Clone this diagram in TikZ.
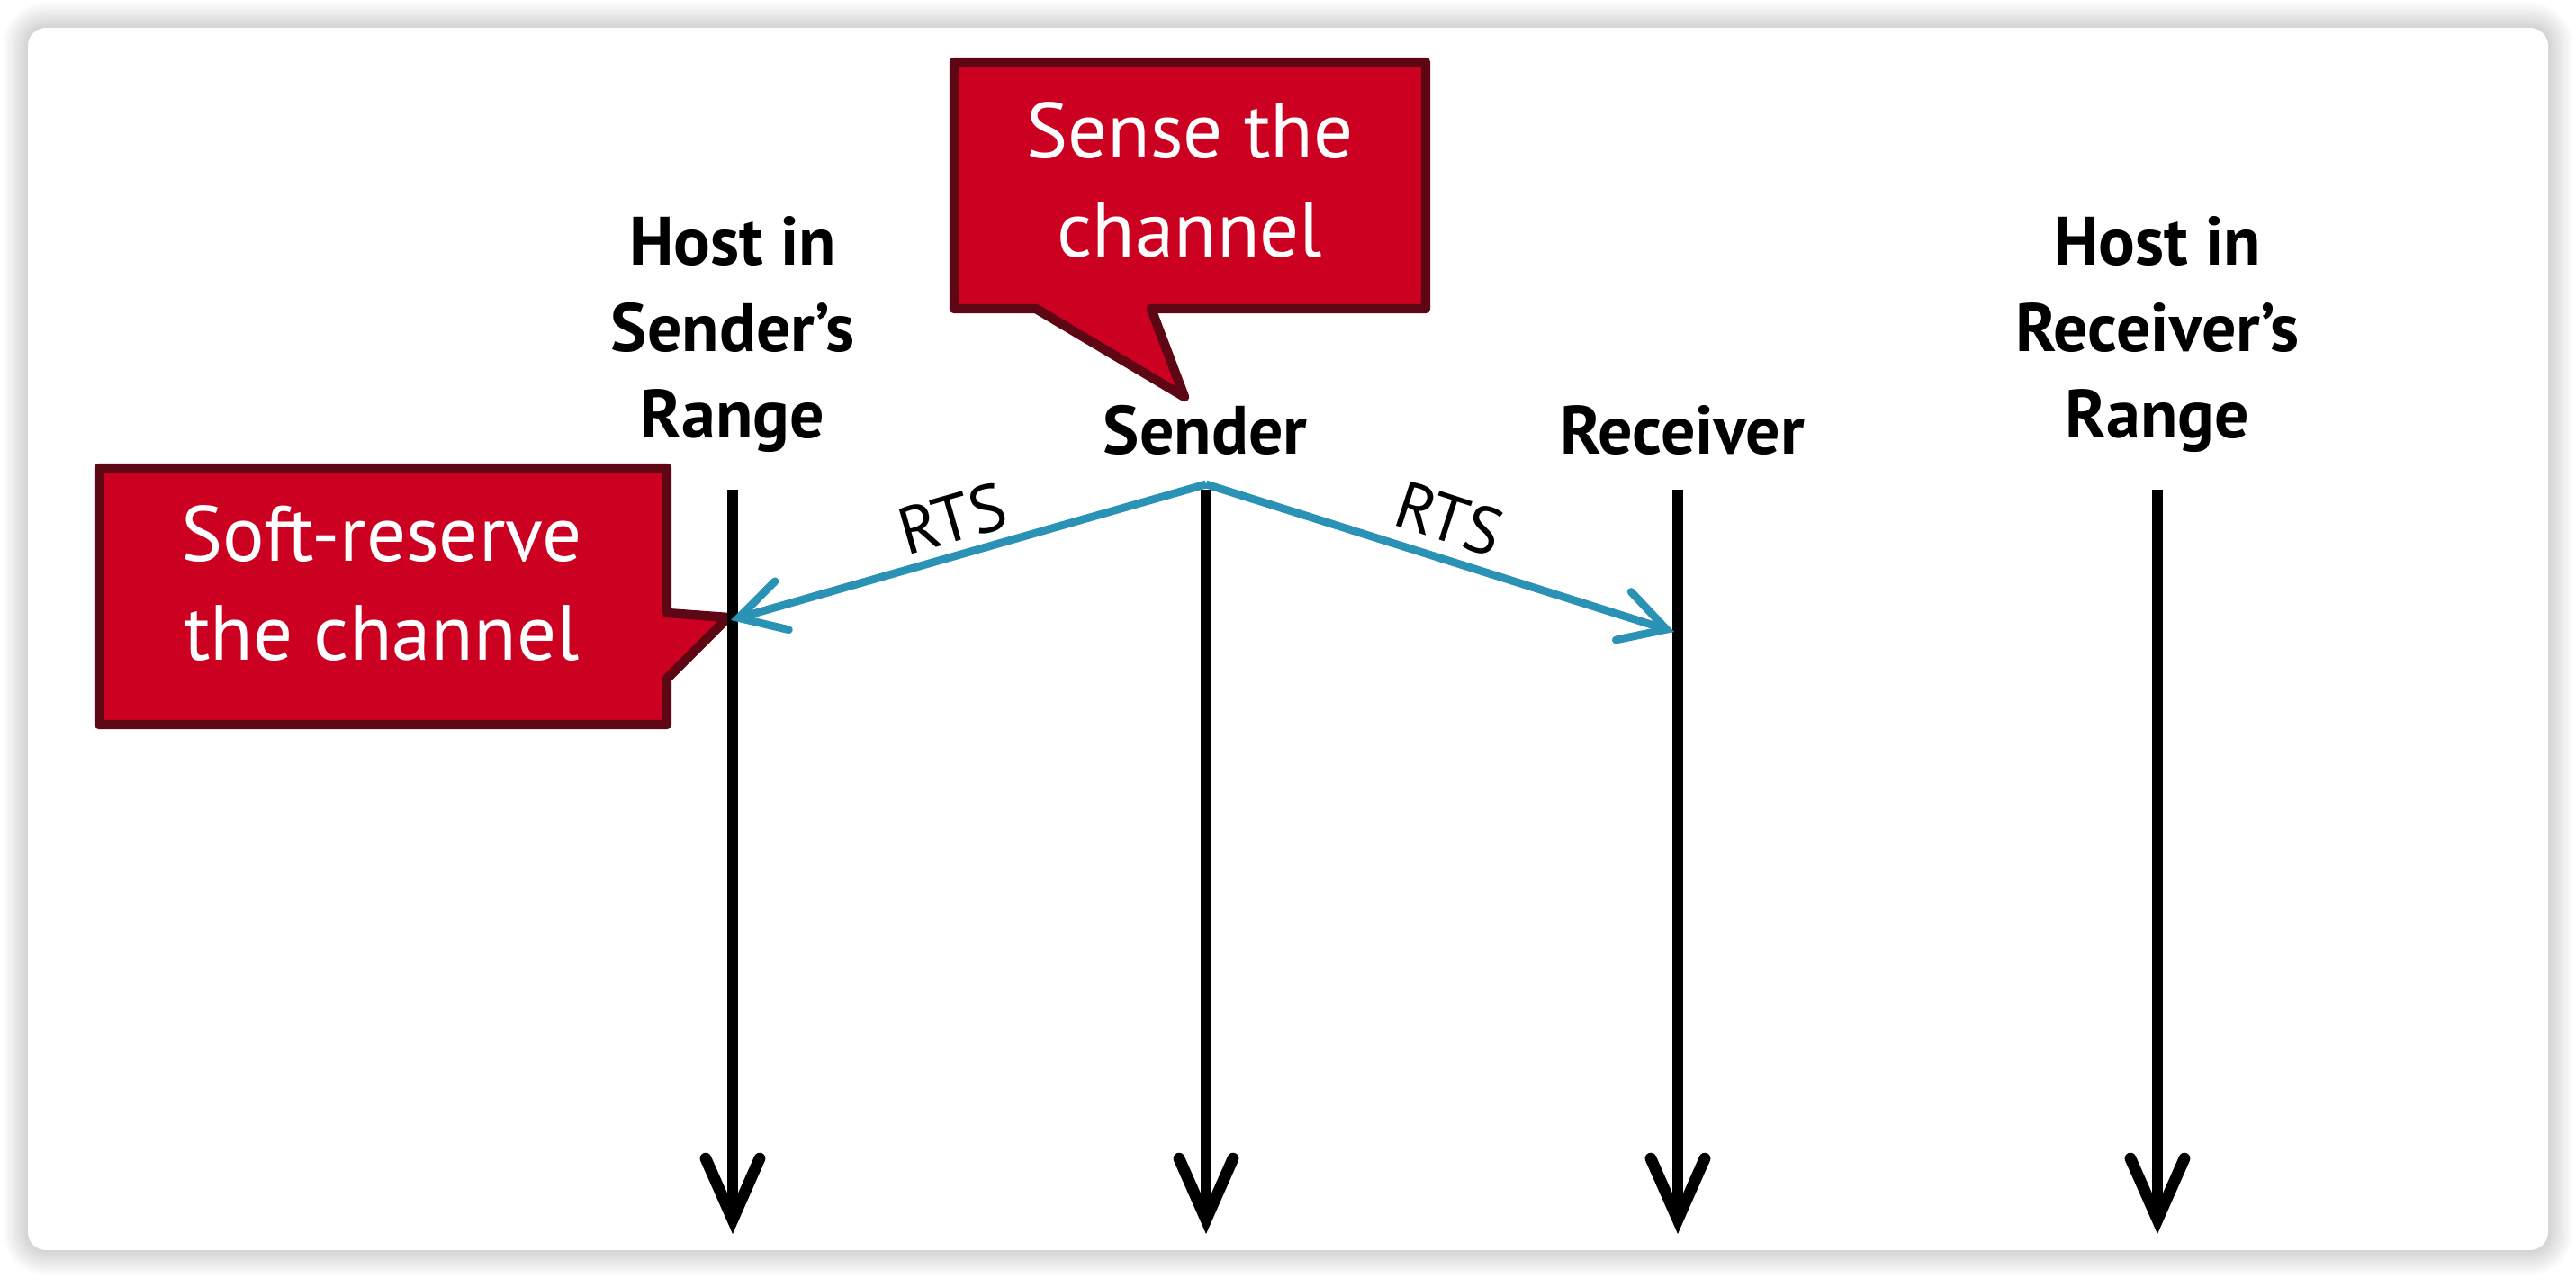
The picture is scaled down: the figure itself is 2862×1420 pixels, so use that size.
\documentclass[tikz,border=0pt]{standalone}
\usepackage{fontspec}
\setmainfont{PT Sans}
\usetikzlibrary{arrows.meta}
\definecolor{cred}{HTML}{CC0020}
\definecolor{cmaroon}{HTML}{5C0713}
\definecolor{cblue}{HTML}{2A93B5}
\begin{document}
\begin{tikzpicture}[x=0.25pt,y=-0.25pt,
  lifeline/.style={line width=3.2pt, -{Straight Barb[length=17pt,width=15pt,line cap=round]}},
  rtsarrow/.style={cblue, line width=2.2pt, -{Straight Barb[length=12.5pt,width=14pt,line cap=round]}},
  hostlbl/.style={font=\fontsize{19}{24}\selectfont\bfseries, align=center, inner sep=0pt},
  callout/.style={fill=cred, draw=cmaroon, line width=2.6pt, line join=round},
  callouttext/.style={text=white, font=\fontsize{21.75}{27.5}\selectfont, align=center, inner sep=0pt},
  rtslbl/.style={font=\fontsize{18.5}{22}\selectfont, inner sep=0pt}]

\useasboundingbox (0,0) rectangle (2862,1420);
\fill[white] (0,0) rectangle (2862,1420);
% card shadow
\foreach \k in {1,...,14}{
  \pgfmathsetmacro\rr{5+0.5*\k}
  \fill[black, fill opacity=0.013, rounded corners=\rr pt] (31-2*\k,31-2*\k) rectangle (2831+2*\k,1389+2*\k);
}
\fill[white, rounded corners=5pt] (31,31) rectangle (2831,1389);

% callouts
\draw[callout] (1060,69) -- (1584,69) -- (1584,343) -- (1279,343) -- (1316,441) -- (1151,343) -- (1060,343) -- cycle;
\node[callouttext] (sense) at (1322,200) {Sense the\\channel};

\draw[callout] (110,520) -- (741,520) -- (741,681) -- (809,686) -- (741,754) -- (741,805) -- (110,805) -- cycle;
\node[callouttext] (soft) at (424,648) {Soft-reserve\\the channel};

% labels
\node[hostlbl] (hs) at (814,372) {Host in\\Sender’s\\Range};
\node[hostlbl] (sender) at (1339,478) {Sender};
\node[hostlbl] (receiver) at (1869,478) {Receiver};
\node[hostlbl] (hr) at (2397,372) {Host in\\Receiver’s\\Range};

% lifelines
\coordinate (l1t) at (814,544);  \coordinate (l1b) at (814,1371);
\coordinate (l2t) at (1340,544); \coordinate (l2b) at (1340,1371);
\coordinate (l3t) at (1864,544); \coordinate (l3b) at (1864,1371);
\coordinate (l4t) at (2397,544); \coordinate (l4b) at (2397,1371);
\draw[lifeline] (l1t) -- (l1b);
\draw[lifeline] (l2t) -- (l2b);
\draw[lifeline] (l3t) -- (l3b);
\draw[lifeline] (l4t) -- (l4b);

% RTS messages
\coordinate (apex) at (1340,538);
\coordinate (tipL) at (812,689);
\coordinate (tipR) at (1860,702);
\draw[rtsarrow] (apex) -- (tipL);
\draw[rtsarrow] (apex) -- (tipR);
\node[rtslbl, rotate=16] (rts1) at (1058,576) {RTS};
\node[rtslbl, rotate=-18] (rts2) at (1610,576) {RTS};
\end{tikzpicture}
\end{document}
